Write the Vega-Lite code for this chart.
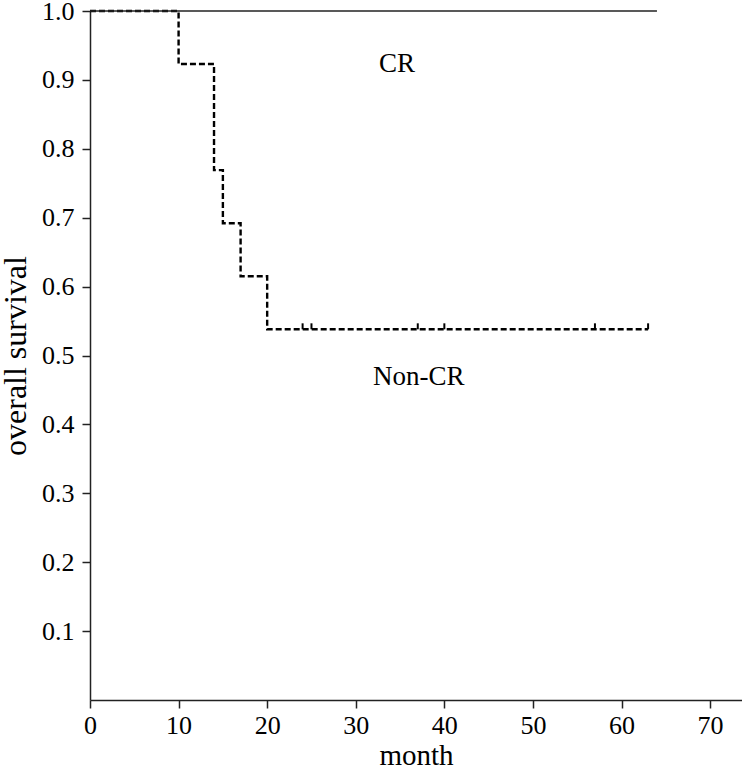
{
  "$schema": "https://vega.github.io/schema/vega-lite/v6.json",
  "autosize": "none",
  "padding": {"left": 90, "top": 11, "right": 0, "bottom": 70},
  "width": 652,
  "height": 689,
  "background": "white",
  "config": {
    "view": {"stroke": null},
    "font": "Liberation Serif, Times New Roman, serif",
    "axis": {
      "grid": false,
      "domainColor": "#222",
      "domainWidth": 1.5,
      "tickColor": "#222",
      "tickWidth": 1.5,
      "tickSize": 8,
      "labelColor": "#000",
      "titleFontWeight": "normal",
      "titleColor": "#000"
    }
  },
  "datasets": {
    "curves": [
      {"group": "CR", "month": 0, "survival": 1.0},
      {"group": "CR", "month": 64, "survival": 1.0},
      {"group": "Non-CR", "month": 0, "survival": 1.0},
      {"group": "Non-CR", "month": 10, "survival": 0.923},
      {"group": "Non-CR", "month": 14, "survival": 0.769},
      {"group": "Non-CR", "month": 15, "survival": 0.692},
      {"group": "Non-CR", "month": 17, "survival": 0.615},
      {"group": "Non-CR", "month": 20, "survival": 0.538},
      {"group": "Non-CR", "month": 63, "survival": 0.538}
    ],
    "censors": [
      {"group": "Non-CR", "month": 24, "survival": 0.538},
      {"group": "Non-CR", "month": 25, "survival": 0.538},
      {"group": "Non-CR", "month": 37, "survival": 0.538},
      {"group": "Non-CR", "month": 40, "survival": 0.538},
      {"group": "Non-CR", "month": 57, "survival": 0.538},
      {"group": "Non-CR", "month": 63, "survival": 0.538}
    ],
    "labels": [
      {"label": "CR", "month": 34.65, "survival": 0.9115},
      {"label": "Non-CR", "month": 37.1, "survival": 0.457}
    ]
  },
  "encoding": {
    "x": {
      "field": "month",
      "type": "quantitative",
      "scale": {"domain": [0, 73.6], "nice": false, "zero": true},
      "axis": {
        "title": "month",
        "titleFont": "Liberation Serif, Times New Roman, serif",
        "titleFontSize": 29,
        "labelFont": "Liberation Serif, Times New Roman, serif",
        "labelFontSize": 26,
        "values": [0, 10, 20, 30, 40, 50, 60, 70],
        "labelPadding": 4,
        "titleBaseline": "alphabetic",
        "titleY": 64,
        "labelFlush": false
      }
    },
    "y": {
      "field": "survival",
      "type": "quantitative",
      "scale": {"domain": [0, 1], "nice": false},
      "axis": {
        "title": "overall survival",
        "titleFont": "Liberation Serif, Times New Roman, serif",
        "titleFontSize": 32,
        "labelFont": "Liberation Serif, Times New Roman, serif",
        "labelFontSize": 26,
        "values": [0.1, 0.2, 0.3, 0.4, 0.5, 0.6, 0.7, 0.8, 0.9, 1.0],
        "format": ".1f",
        "labelPadding": 8,
        "titleAngle": -90,
        "titleBaseline": "alphabetic",
        "titleAlign": "center",
        "titleX": -65,
        "labelFlush": false
      }
    }
  },
  "layer": [
    {
      "data": {"name": "curves"},
      "transform": [{"filter": "datum.group === 'Non-CR'"}],
      "mark": {"type": "line", "interpolate": "step-after", "color": "#000", "strokeWidth": 2.4, "strokeDash": [6, 3]}
    },
    {
      "data": {"name": "curves"},
      "transform": [{"filter": "datum.group === 'CR'"}],
      "mark": {"type": "line", "color": "#222", "strokeWidth": 1.6}
    },
    {
      "data": {"name": "censors"},
      "mark": {"type": "point", "shape": "M0,0L0,-1", "size": 144, "filled": false, "stroke": "#000", "strokeWidth": 2, "opacity": 1}
    },
    {
      "data": {"name": "labels"},
      "mark": {"type": "text", "font": "Liberation Serif, Times New Roman, serif", "fontSize": 27, "align": "center", "baseline": "alphabetic", "color": "#000"},
      "encoding": {"text": {"field": "label"}}
    }
  ]
}
